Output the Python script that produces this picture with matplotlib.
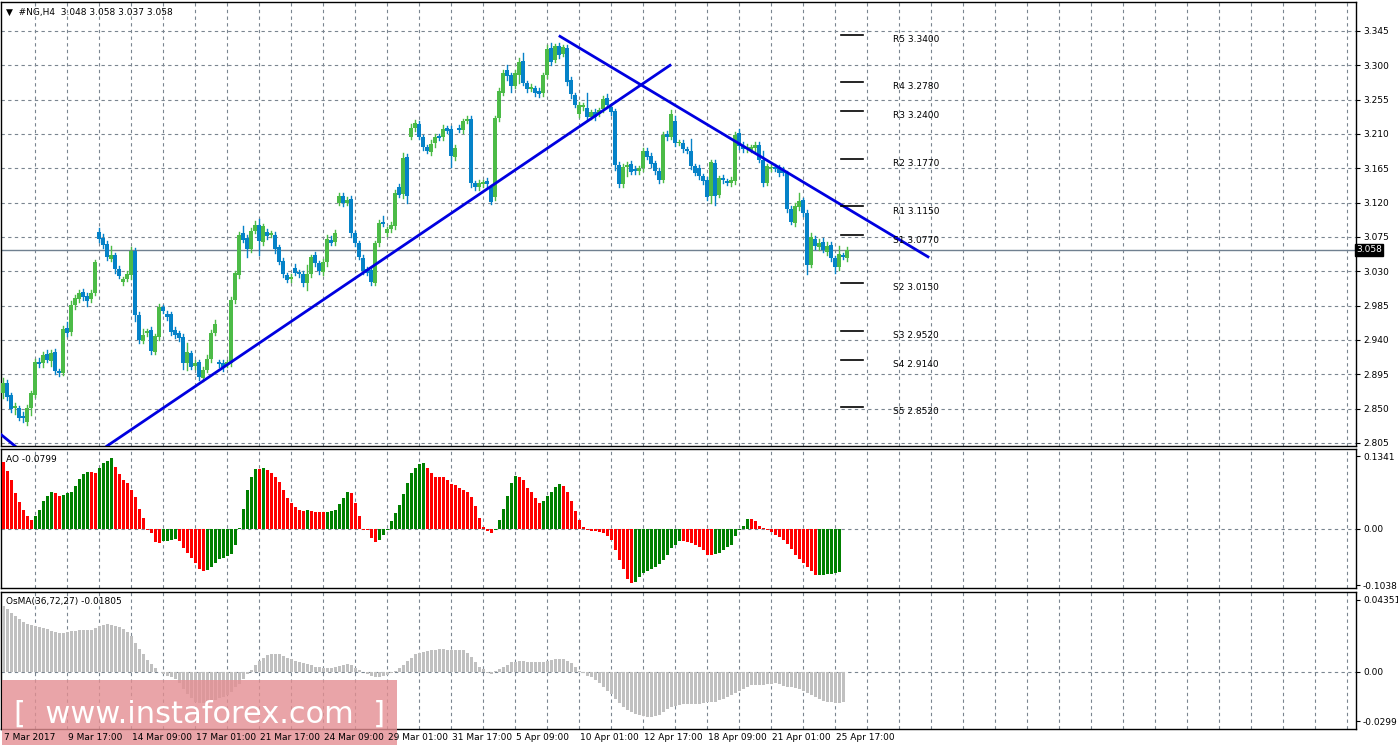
import numpy as np
import matplotlib
matplotlib.use('Agg')
from matplotlib import pyplot as plt
from matplotlib.patches import Rectangle

#%% Data (H4 candles, #NG)
opens = [2.870, 2.884, 2.868, 2.851, 2.851, 2.840, 2.833, 2.851, 2.868, 2.911,
         2.910, 2.922, 2.912, 2.924, 2.899, 2.897, 2.956, 2.950, 2.986, 2.994,
         3.003, 2.998, 2.994, 3.002, 3.081, 3.074, 3.066, 3.046, 3.051, 3.033,
         3.016, 3.020, 3.025, 3.057, 2.973, 2.939, 2.949, 2.953, 2.924, 2.944,
         2.983, 2.974, 2.974, 2.953, 2.949, 2.944, 2.910, 2.923, 2.906, 2.911,
         2.890, 2.901, 2.915, 2.949, 2.911, 2.910, 2.907, 2.910, 2.992, 3.025,
         3.080, 3.074, 3.059, 3.083, 3.091, 3.068, 3.081, 3.078, 3.078, 3.062,
         3.043, 3.025, 3.020, 3.034, 3.029, 3.026, 3.015, 3.026, 3.051, 3.041,
         3.029, 3.042, 3.071, 3.068, 3.120, 3.129, 3.120, 3.125, 3.080, 3.067,
         3.047, 3.033, 3.032, 3.015, 3.067, 3.095, 3.080, 3.085, 3.089, 3.140,
         3.131, 3.180, 3.206, 3.218, 3.223, 3.206, 3.193, 3.186, 3.198, 3.207,
         3.206, 3.218, 3.216, 3.180, 3.218, 3.215, 3.227, 3.230, 3.146, 3.140,
         3.144, 3.148, 3.140, 3.127, 3.231, 3.264, 3.294, 3.287, 3.273, 3.287,
         3.306, 3.277, 3.269, 3.270, 3.266, 3.264, 3.287, 3.323, 3.307, 3.325,
         3.315, 3.323, 3.281, 3.261, 3.236, 3.245, 3.244, 3.232, 3.239, 3.236,
         3.243, 3.257, 3.245, 3.240, 3.169, 3.144, 3.167, 3.171, 3.164, 3.161,
         3.165, 3.188, 3.181, 3.172, 3.161, 3.150, 3.210, 3.206, 3.227, 3.198,
         3.198, 3.190, 3.188, 3.168, 3.165, 3.155, 3.150, 3.129, 3.172, 3.130,
         3.152, 3.148, 3.146, 3.148, 3.211, 3.194, 3.190, 3.189, 3.192, 3.196,
         3.176, 3.146, 3.165, 3.167, 3.165, 3.163, 3.159, 3.112, 3.093, 3.114,
         3.123, 3.106, 3.038, 3.072, 3.062, 3.068, 3.055, 3.064, 3.047, 3.036,
         3.051, 3.048]
closes = [2.884, 2.865, 2.850, 2.853, 2.838, 2.838, 2.851, 2.870, 2.911, 2.909,
          2.920, 2.914, 2.923, 2.899, 2.897, 2.954, 2.949, 2.986, 2.995, 3.002,
          2.996, 2.991, 3.002, 3.042, 3.072, 3.064, 3.049, 3.051, 3.033, 3.024,
          3.020, 3.026, 3.057, 2.973, 2.940, 2.947, 2.952, 2.926, 2.945, 2.983,
          2.978, 2.970, 2.950, 2.947, 2.943, 2.910, 2.924, 2.905, 2.910, 2.891,
          2.901, 2.915, 2.949, 2.961, 2.909, 2.905, 2.911, 2.992, 3.028, 3.078,
          3.071, 3.059, 3.083, 3.091, 3.070, 3.089, 3.076, 3.080, 3.059, 3.042,
          3.026, 3.019, 3.023, 3.028, 3.026, 3.015, 3.026, 3.049, 3.041, 3.030,
          3.042, 3.072, 3.067, 3.080, 3.129, 3.120, 3.123, 3.080, 3.067, 3.049,
          3.030, 3.028, 3.016, 3.067, 3.093, 3.092, 3.085, 3.091, 3.133, 3.130,
          3.179, 3.129, 3.218, 3.224, 3.206, 3.193, 3.188, 3.197, 3.206, 3.205,
          3.216, 3.214, 3.181, 3.192, 3.215, 3.227, 3.230, 3.146, 3.140, 3.146,
          3.147, 3.144, 3.121, 3.231, 3.266, 3.290, 3.286, 3.273, 3.290, 3.304,
          3.277, 3.269, 3.272, 3.264, 3.262, 3.287, 3.321, 3.304, 3.325, 3.313,
          3.324, 3.278, 3.262, 3.248, 3.248, 3.248, 3.232, 3.239, 3.232, 3.241,
          3.256, 3.248, 3.239, 3.169, 3.144, 3.167, 3.169, 3.160, 3.161, 3.165,
          3.188, 3.180, 3.171, 3.161, 3.150, 3.209, 3.206, 3.236, 3.198, 3.199,
          3.190, 3.188, 3.168, 3.159, 3.155, 3.148, 3.127, 3.173, 3.129, 3.152,
          3.150, 3.146, 3.150, 3.209, 3.194, 3.190, 3.193, 3.193, 3.196, 3.176,
          3.146, 3.168, 3.167, 3.164, 3.159, 3.159, 3.112, 3.095, 3.116, 3.122,
          3.106, 3.038, 3.075, 3.063, 3.067, 3.058, 3.063, 3.047, 3.036, 3.053,
          3.049, 3.058]
# wick lengths above / below the body, in 0.001
wick_up = [6, 4, 3, 4, 3, 5, 4, 3, 4, 6, 4, 5, 4, 4, 3, 4, 8, 5, 4, 3,
           4, 3, 4, 3, 6, 5, 4, 12, 3, 4, 3, 4, 5, 3, 4, 8, 3, 4, 3, 4,
           3, 4, 3, 4, 3, 4, 12, 3, 4, 3, 4, 5, 4, 5, 3, 4, 3, 4, 3, 4,
           9, 3, 4, 5, 8, 3, 4, 3, 4, 3, 4, 3, 4, 6, 3, 4, 12, 3, 4, 3,
           4, 6, 5, 4, 3, 3, 4, 4, 3, 3, 4, 3, 4, 3, 4, 8, 3, 4, 3, 4,
           6, 4, 5, 4, 4, 3, 3, 5, 4, 3, 6, 3, 4, 3, 4, 3, 3, 4, 3, 4,
           3, 4, 3, 3, 4, 4, 6, 3, 4, 5, 10, 3, 4, 3, 4, 3, 5, 6, 3, 4,
           3, 3, 4, 3, 4, 3, 20, 3, 4, 3, 4, 5, 4, 3, 4, 3, 4, 3, 4, 3,
           4, 3, 4, 3, 4, 3, 4, 5, 7, 3, 4, 3, 16, 3, 4, 3, 4, 3, 4, 3,
           4, 3, 4, 3, 5, 5, 4, 3, 4, 3, 12, 3, 4, 3, 4, 4, 3, 4, 3, 10,
           3, 4, 5, 4, 5, 5, 6, 4, 3, 10, 3, 4]
wick_dn = [6, 4, 5, 8, 3, 6, 4, 10, 3, 4, 5, 3, 6, 3, 4, 3, 4, 3, 5, 4,
           3, 6, 4, 3, 4, 3, 4, 3, 5, 3, 4, 3, 5, 8, 4, 3, 4, 5, 3, 4,
           3, 4, 3, 5, 4, 8, 10, 3, 4, 3, 4, 3, 4, 3, 5, 6, 3, 4, 3, 4,
           3, 10, 4, 3, 18, 3, 4, 3, 5, 3, 4, 3, 4, 3, 3, 4, 10, 3, 4, 3,
           4, 5, 3, 4, 3, 4, 3, 5, 4, 3, 4, 3, 4, 3, 4, 3, 4, 3, 4, 3,
           5, 10, 3, 4, 3, 4, 3, 4, 5, 3, 4, 3, 14, 4, 3, 4, 3, 5, 3, 4,
           3, 4, 3, 3, 4, 3, 5, 8, 3, 10, 3, 4, 3, 4, 3, 4, 3, 4, 3, 4,
           3, 4, 5, 3, 4, 3, 4, 3, 4, 3, 4, 3, 4, 6, 4, 3, 12, 3, 4, 3,
           4, 3, 4, 3, 4, 3, 4, 3, 4, 3, 4, 3, 4, 3, 4, 3, 4, 10, 12, 3,
           4, 3, 4, 3, 4, 3, 4, 3, 4, 3, 4, 3, 4, 3, 4, 3, 4, 3, 4, 3,
           4, 12, 3, 4, 4, 3, 4, 3, 8, 4, 3, 4]

ao = [0.1238, 0.1074, 0.0903, 0.0659, 0.0488, 0.0354, 0.0244, 0.0171, 0.0244, 0.0354,
      0.0506, 0.0598, 0.0677, 0.0659, 0.0598, 0.0628, 0.0659, 0.0671, 0.0781, 0.0915,
      0.1007, 0.1049, 0.1045, 0.1037, 0.1116, 0.1208, 0.1251, 0.1299, 0.1135, 0.1007,
      0.0903, 0.0842, 0.0720, 0.0586, 0.0366, 0.0195, -0.0020, -0.0073, -0.0244, -0.0256,
      -0.0226, -0.0214, -0.0195, -0.0183, -0.0226, -0.0348, -0.0439, -0.0531, -0.0634, -0.0732,
      -0.0775, -0.0756, -0.0708, -0.0634, -0.0561, -0.0531, -0.0500, -0.0458, -0.0287, 0.0024,
      0.0366, 0.0708, 0.0964, 0.1098, 0.1095, 0.1116, 0.1086, 0.1025, 0.0952, 0.0872,
      0.0720, 0.0567, 0.0476, 0.0403, 0.0342, 0.0338, 0.0340, 0.0336, 0.0317, 0.0316,
      0.0315, 0.0317, 0.0329, 0.0342, 0.0464, 0.0567, 0.0671, 0.0659, 0.0476, 0.0232,
      -0.0010, -0.0012, -0.0165, -0.0244, -0.0195, -0.0104, -0.0012, 0.0140, 0.0293, 0.0445,
      0.0641, 0.0854, 0.1037, 0.1116, 0.1190, 0.1208, 0.1116, 0.1037, 0.0964, 0.0952,
      0.0950, 0.0903, 0.0830, 0.0811, 0.0750, 0.0720, 0.0671, 0.0586, 0.0415, 0.0201,
      0.0037, -0.0043, -0.0073, -0.0012, 0.0159, 0.0366, 0.0598, 0.0854, 0.0976, 0.0952,
      0.0891, 0.0750, 0.0671, 0.0567, 0.0476, 0.0506, 0.0610, 0.0671, 0.0769, 0.0830,
      0.0781, 0.0671, 0.0506, 0.0323, 0.0159, 0.0037, -0.0024, -0.0037, -0.0043, -0.0049,
      -0.0073, -0.0134, -0.0195, -0.0378, -0.0573, -0.0744, -0.0915, -0.1000, -0.0976, -0.0878,
      -0.0817, -0.0775, -0.0732, -0.0695, -0.0653, -0.0573, -0.0470, -0.0354, -0.0287, -0.0226,
      -0.0228, -0.0244, -0.0256, -0.0287, -0.0329, -0.0390, -0.0470, -0.0472, -0.0468, -0.0439,
      -0.0378, -0.0329, -0.0287, -0.0134, -0.0024, 0.0061, 0.0183, 0.0181, 0.0140, 0.0061,
      0.0018, -0.0024, -0.0061, -0.0104, -0.0146, -0.0195, -0.0268, -0.0366, -0.0470, -0.0561,
      -0.0634, -0.0702, -0.0775, -0.0850, -0.0845, -0.0838, -0.0830, -0.0820, -0.0810, -0.0799]

osma_e4 = [399, 380, 357, 338, 319, 304, 289, 281, 276, 270, 262, 257, 247, 241, 234, 236,
           239, 245, 249, 251, 251, 251, 253, 266, 279, 285, 287, 285, 279, 270, 257, 243,
           219, 171, 137, 105, 72, 48, 23, -2, -15, -23, -29, -42, -67, -105, -137, -162,
           -181, -190, -190, -189, -181, -171, -162, -152, -143, -124, -95, -72, -42, -15, 10, 38,
           67, 86, 99, 108, 110, 105, 95, 86, 76, 67, 57, 51, 44, 38, 30, 27,
           23, 23, 23, 29, 34, 42, 44, 38, 23, 10, -4, -15, -25, -30, -30, -27,
           -19, -10, 4, 23, 42, 67, 86, 105, 114, 118, 125, 129, 133, 137, 137, 133,
           133, 129, 129, 129, 114, 91, 61, 29, 15, -10, -11, 2, 15, 29, 42, 57,
           61, 63, 63, 61, 61, 57, 57, 61, 67, 72, 76, 80, 76, 67, 53, 29,
           4, -10, -23, -34, -48, -67, -91, -114, -137, -167, -190, -213, -232, -247, -257, -262,
           -270, -272, -272, -270, -262, -247, -228, -213, -205, -200, -196, -194, -194, -194, -194, -190,
           -186, -184, -181, -171, -163, -156, -143, -129, -114, -105, -91, -80, -80, -80, -80, -76,
           -72, -70, -76, -86, -91, -95, -99, -105, -118, -129, -143, -156, -167, -175, -182, -186,
           -190, -190, -181]

pivot_names = ['R5', 'R4', 'R3', 'R2', 'R1', 'S1', 'S2', 'S3', 'S4', 'S5']
pivot_levels = [3.340, 3.278, 3.240, 3.177, 3.115, 3.077, 3.015, 2.952, 2.914, 2.852]

price_ticks = [3.345, 3.300, 3.255, 3.210, 3.165, 3.120, 3.075, 3.030, 2.985, 2.940, 2.895, 2.850, 2.805]
date_labels = ['7 Mar 2017', '9 Mar 17:00', '14 Mar 09:00', '17 Mar 01:00', '21 Mar 17:00',
               '24 Mar 09:00', '29 Mar 01:00', '31 Mar 17:00', '5 Apr 09:00', '10 Apr 01:00',
               '12 Apr 17:00', '18 Apr 09:00', '21 Apr 01:00', '25 Apr 17:00']

# trend lines: (bar, price) endpoints
trend_lines = [((-0.5, 2.816), (3.0, 2.801)),
               ((26.0, 2.801), (166.75, 3.300)),
               ((139.25, 3.338), (231.25, 3.049))]
last_price = 3.058

#%% Figure
W, H = 1398, 749
fig = plt.figure(figsize=(W / 100, H / 100), dpi=100)
fig.patch.set_facecolor('white')
plt.rcParams['font.family'] = ['DejaVu Sans']
FS = 6.5

def px_axes(top, bottom):
    return fig.add_axes([1 / W, (H - bottom) / H, 1355 / W, (bottom - top) / H])

xmin, xmax = -0.5, 338.25
grid_kw = dict(color='#7a8590', linestyle=(0, (3, 3)), linewidth=0.8)

ax1 = px_axes(2, 446)
ax2 = px_axes(449, 588)
ax3 = px_axes(592, 729)

for ax in (ax1, ax2, ax3):
    ax.set_xlim(xmin, xmax)
    ax.set_xticks(np.arange(8, 339, 8))
    ax.xaxis.grid(True, **grid_kw)
    ax.tick_params(axis='x', length=0, labelbottom=False)
    ax.yaxis.tick_right()
    ax.tick_params(axis='y', labelsize=FS, length=3, pad=2)
    for s in ax.spines.values():
        s.set_color('black')
        s.set_linewidth(1)
    ax.set_axisbelow(True)

# --- price panel
ax1.set_ylim(2.801, 3.383)
ax1.set_yticks(price_ticks)
ax1.set_yticklabels(['%.3f' % p for p in price_ticks])
ax1.yaxis.grid(True, **grid_kw)
n = len(closes)
idx = np.arange(n)
for i in range(n):
    o, c = opens[i], closes[i]
    col = '#4cbb47' if c >= o else '#0582c8'
    top, bot = max(o, c), min(o, c)
    ax1.plot([i, i], [bot - wick_dn[i] / 1000, top + wick_up[i] / 1000], color=col, lw=1, zorder=3)
    ax1.add_patch(Rectangle((i - 0.38, bot), 0.76, max(top - bot, 0.0012), color=col, zorder=3, lw=0))
ax1.axhline(last_price, color='#708090', lw=1, zorder=2)
ax1.text(1.0, last_price, '3.058', transform=ax1.get_yaxis_transform(), fontsize=FS, color='white',
         va='center', ha='left', bbox=dict(boxstyle='square,pad=0.15', fc='black', ec='black'))
for (x0, y0), (x1, y1) in trend_lines:
    ax1.plot([x0, x1], [y0, y1], color='#0000e0', lw=2, zorder=4)
for name, lev in zip(pivot_names, pivot_levels):
    ax1.plot([209.5, 215], [lev, lev], color='black', lw=1.2, zorder=4)
    ax1.text(222.5, lev - 0.006, '%s %.4f' % (name, lev), fontsize=FS, va='center', ha='left', zorder=5)
ax1.text(0.004, 0.987, '\u25bc  #NG,H4  3.048 3.058 3.037 3.058', transform=ax1.transAxes,
         fontsize=FS, va='top', ha='left')

# --- AO panel
ax2.set_ylim(-0.1085, 0.147)
ax2.set_yticks([0.1341, 0.0, -0.1038])
ax2.set_yticklabels(['0.1341', '0.00', '-0.1038'])
ao_arr = np.array(ao)
ao_col = ['#ff0000'] + ['#008000' if ao_arr[k] > ao_arr[k - 1] else '#ff0000' for k in range(1, len(ao))]
ax2.bar(np.arange(len(ao)), ao_arr, width=0.75, color=ao_col, zorder=3)
ax2.axhline(0, **grid_kw)
ax2.text(0.004, 0.96, 'AO -0.0799', transform=ax2.transAxes, fontsize=FS, va='top', ha='left')

# --- OsMA panel
osma = np.array(osma_e4) / 10000.0
ax3.set_ylim(-0.0347, 0.0483)
ax3.set_yticks([0.04351, 0.0, -0.0299])
ax3.set_yticklabels(['0.04351', '0.00', '-0.0299'])
ax3.bar(np.arange(len(osma)), osma, width=0.75, color='#c0c0c0', zorder=3)
ax3.axhline(0, **grid_kw)
ax3.text(0.004, 0.96, 'OsMA(36,72,27) -0.01805', transform=ax3.transAxes, fontsize=FS, va='top', ha='left')

for k, lab in enumerate(date_labels):
    xd = (16 * k - xmin) / (xmax - xmin) * 1355 / W + 1 / W
    fig.text(xd + 1 / W, (H - 737) / H, lab, fontsize=FS, va='center', ha='left', zorder=6)

# watermark
fig.patches.append(Rectangle((2 / W, (H - 745) / H), 395 / W, 65 / H, transform=fig.transFigure,
                             facecolor='#e48e92', alpha=0.8, edgecolor='none', zorder=5))
fig.text(200 / W, (H - 714) / H, '[  www.instaforex.com  ]', fontsize=22, color='white',
         ha='center', va='center', zorder=7)

plt.savefig('out.png', dpi=100)
